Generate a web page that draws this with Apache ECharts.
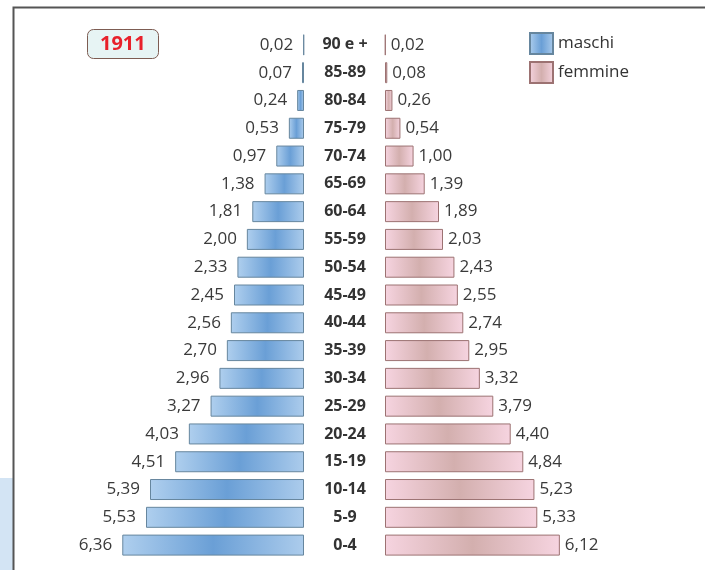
<!DOCTYPE html>
<html>
<head>
<meta charset="utf-8">
<script src="https://cdn.jsdelivr.net/npm/echarts@6/dist/echarts.min.js"></script>
<style>
  html, body { margin: 0; padding: 0; background: #ffffff; }
  #chart { width: 705px; height: 570px; }
</style>
</head>
<body>
<div id="chart"></div>
<script>
// Age classes, from oldest (top) to youngest (bottom)
const ageClasses = ['90 e +', '85-89', '80-84', '75-79', '70-74', '65-69', '60-64', '55-59', '50-54',
  '45-49', '40-44', '35-39', '30-34', '25-29', '20-24', '15-19', '10-14', '5-9', '0-4'];
// Share of population (%) per age class, 1911 census
const maschi = [0.02, 0.07, 0.24, 0.53, 0.97, 1.38, 1.81, 2.00, 2.33,
  2.45, 2.56, 2.70, 2.96, 3.27, 4.03, 4.51, 5.39, 5.53, 6.36];
const femmine = [0.02, 0.08, 0.26, 0.54, 1.00, 1.39, 1.89, 2.03, 2.43,
  2.55, 2.74, 2.95, 3.32, 3.79, 4.40, 4.84, 5.23, 5.33, 6.12];
const year = '1911';

const fmt = v => v.toFixed(2).replace('.', ',');
const FONT = '"Open Sans", "Liberation Sans", sans-serif';

const blueFill = {
  type: 'linear', x: 0, y: 0, x2: 1, y2: 0,
  colorStops: [
    { offset: 0, color: '#afcfee' },
    { offset: 0.5, color: '#6a9fd6' },
    { offset: 1, color: '#acccec' }
  ]
};
const pinkFill = {
  type: 'linear', x: 0, y: 0, x2: 1, y2: 0,
  colorStops: [
    { offset: 0, color: '#f6d4e0' },
    { offset: 0.5, color: '#d3afae' },
    { offset: 1, color: '#f6d4e0' }
  ]
};

const chart = echarts.init(document.getElementById('chart'), null, { renderer: 'canvas' });

const GRID_TOP = 31, GRID_H = 528, AXIS_MAX = 7, UNIT_W = 200;

chart.setOption({
  animation: false,
  backgroundColor: '#ffffff',
  title: {
    text: year,
    left: 87, top: 29,
    padding: [4, 13, 4, 13],
    backgroundColor: '#e7f4f4',
    borderColor: '#7d5c52',
    borderWidth: 1,
    borderRadius: 6,
    textStyle: { color: '#e8212b', fontWeight: 'bold', fontSize: 20, fontFamily: FONT, lineHeight: 22 }
  },
  legend: {
    orient: 'vertical',
    left: 529, top: 32, padding: 0,
    icon: 'rect',
    itemWidth: 23, itemHeight: 21, itemGap: 6,
    textStyle: { color: '#333', fontSize: 17, fontFamily: FONT },
    data: ['maschi', 'femmine']
  },
  grid: [
    { left: 304 - UNIT_W, width: UNIT_W, top: GRID_TOP, height: GRID_H },
    { left: 385, width: UNIT_W, top: GRID_TOP, height: GRID_H }
  ],
  xAxis: [
    { gridIndex: 0, type: 'value', min: 0, max: AXIS_MAX, inverse: true, show: false },
    { gridIndex: 1, type: 'value', min: 0, max: AXIS_MAX, show: false }
  ],
  yAxis: [
    { gridIndex: 0, type: 'category', data: ageClasses, inverse: true, show: false },
    {
      gridIndex: 1, type: 'category', data: ageClasses, inverse: true,
      axisLine: { show: false }, axisTick: { show: false },
      axisLabel: {
        margin: 40, align: 'center',
        color: '#333', fontWeight: 'bold', fontSize: 16, fontFamily: FONT
      }
    }
  ],
  series: [
    {
      name: 'maschi', type: 'bar', xAxisIndex: 0, yAxisIndex: 0,
      data: maschi, barWidth: 21,
      itemStyle: { color: blueFill, borderColor: '#66869e', borderWidth: 1 },
      label: {
        show: true, position: 'left', distance: 10,
        color: '#3a3a3a', fontSize: 17, fontFamily: FONT,
        formatter: p => fmt(p.value)
      }
    },
    {
      name: 'femmine', type: 'bar', xAxisIndex: 1, yAxisIndex: 1,
      data: femmine, barWidth: 21,
      itemStyle: { color: pinkFill, borderColor: '#9c7272', borderWidth: 1 },
      label: {
        show: true, position: 'right', distance: 5,
        color: '#3a3a3a', fontSize: 17, fontFamily: FONT,
        formatter: p => fmt(p.value)
      }
    }
  ],
  graphic: [
    { type: 'rect', z: -1, shape: { x: 0, y: 478, width: 13, height: 92 }, style: { fill: '#d3e4f4' } },
    { type: 'polyline', z: 10, shape: { points: [[13.5, 570], [13.5, 7.5], [705, 7.5]] },
      style: { stroke: '#555555', lineWidth: 2, fill: null } }
  ]
});
</script>
</body>
</html>
